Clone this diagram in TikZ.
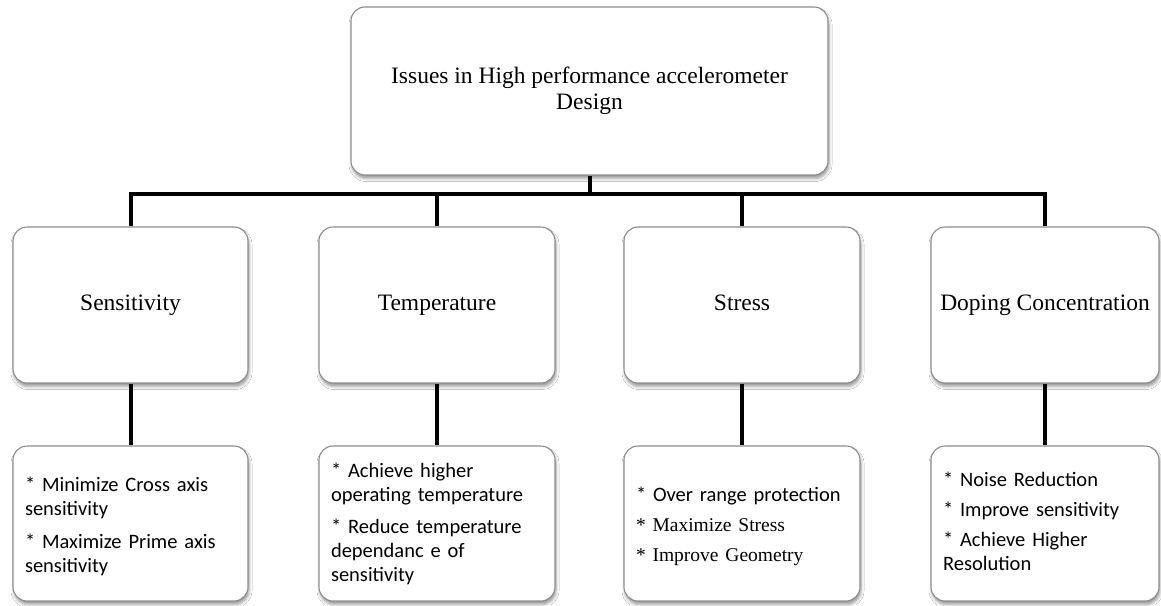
\documentclass[tikz,border=0pt]{standalone}
\usepackage{fontspec}
\setmainfont{Liberation Serif}
\newfontfamily\calfont{Carlito}
\newcommand\tmsfont{\rmfamily\fontsize{19.5}{24}\selectfont}
\usetikzlibrary{shadows.blur}
\definecolor{boxgray}{RGB}{140,140,140}
\begin{document}
\begin{tikzpicture}[x=1pt,y=-1pt,
  box/.style={draw=boxgray, line width=1.1pt, rounded corners=14pt, fill=white,
    blur shadow={shadow xshift=1pt, shadow yshift=-3.5pt, shadow blur radius=3pt, shadow opacity=40},
    inner sep=0pt},
  hdr/.style={font=\fontsize{23.5}{26.5}\selectfont, align=center},
  midbox/.style={box, hdr, minimum height=156pt, text height=16pt, text depth=5pt},
  lowbox/.style={box, minimum height=155pt},
  bul/.style={font=\calfont\fontsize{20.5}{24}\selectfont, align=left, inner xsep=12pt, inner ysep=0pt},
  conn/.style={line width=4pt, line join=miter}]
\useasboundingbox[fill=white] (0,0) rectangle (1161,605);

% top
\node[box, hdr, minimum width=477pt, minimum height=168pt] (top) at (589.5,91)
  {Issues in High performance accelerometer\\Design};

% middle row
\node[midbox, minimum width=235pt] (sens) at (130.5,305) {Sensitivity};
\node[midbox, minimum width=236pt] (temp) at (437,305) {Temperature};
\node[midbox, minimum width=236pt] (stre) at (742,305) {Stress};
\node[midbox, minimum width=228pt] (dope) at (1045,305) {Doping Concentration};

% bottom row boxes
\node[lowbox, minimum width=235pt] (sensb) at (130.5,523.5) {};
\node[lowbox, minimum width=236pt] (tempb) at (437,523.5) {};
\node[lowbox, minimum width=236pt] (streb) at (742,523.5) {};
\node[lowbox, minimum width=228pt] (dopeb) at (1045,523.5) {};

% bottom row texts
\node[bul, text width=211pt] (senst) at ([yshift=-3pt]sensb.center)
  {* Minimize Cross axis\\sensitivity\\[9pt]* Maximize Prime axis\\sensitivity};
\node[bul, text width=212pt] (tempt) at (tempb.center)
  {* Achieve higher\\operating temperature\\[8pt]* Reduce temperature\\dependanc e of\\sensitivity};
\node[bul, text width=212pt] (stret) at ([yshift=-3pt]streb.center)
  {* Over range protection\\[6pt]{\tmsfont * Maximize Stress}\\[6pt]{\tmsfont * Improve Geometry}};
\node[bul, text width=204pt] (dopet) at ([yshift=2pt]dopeb.center)
  {* Noise Reduction\\[6pt]* Improve sensitivity\\[6pt]* Achieve Higher\\Resolution};

% connectors
\coordinate (bar) at (0,194);
\draw[conn] (top.south) -- (top.south |- bar);
\draw[conn] (sens.north) -- (sens.north |- bar) -- (dope.north |- bar) -- (dope.north);
\draw[conn] (temp.north) -- (temp.north |- bar);
\draw[conn] (stre.north) -- (stre.north |- bar);
\draw[conn] (sens.south) -- (sensb.north);
\draw[conn] (temp.south) -- (tempb.north);
\draw[conn] (stre.south) -- (streb.north);
\draw[conn] (dope.south) -- (dopeb.north);
\end{tikzpicture}
\end{document}
